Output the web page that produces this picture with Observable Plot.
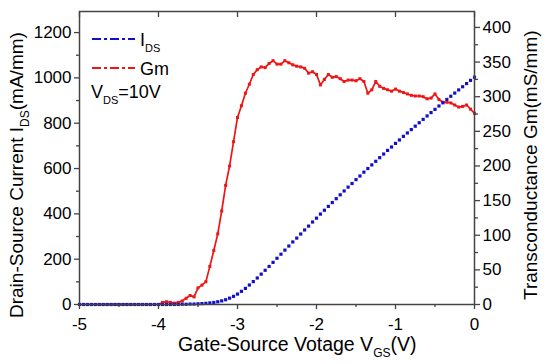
<!DOCTYPE html>
<html><head><meta charset="utf-8">
<script src="https://cdn.jsdelivr.net/npm/d3@7"></script>
<script src="https://cdn.jsdelivr.net/npm/@observablehq/plot@0.6"></script>
<style>body{margin:0;background:#fff} #chart{width:550px;height:364px}</style>
</head><body><div id="chart"></div>
<script>
// Gate-source voltage (V), 0.05 V steps
const vgs = [
  -5.00,-4.95,-4.90,-4.85,-4.80,-4.75,-4.70,-4.65,-4.60,-4.55,
  -4.50,-4.45,-4.40,-4.35,-4.30,-4.25,-4.20,-4.15,-4.10,-4.05,
  -4.00,-3.95,-3.90,-3.85,-3.80,-3.75,-3.70,-3.65,-3.60,-3.55,
  -3.50,-3.45,-3.40,-3.35,-3.30,-3.25,-3.20,-3.15,-3.10,-3.05,
  -3.00,-2.95,-2.90,-2.85,-2.80,-2.75,-2.70,-2.65,-2.60,-2.55,
  -2.50,-2.45,-2.40,-2.35,-2.30,-2.25,-2.20,-2.15,-2.10,-2.05,
  -2.00,-1.95,-1.90,-1.85,-1.80,-1.75,-1.70,-1.65,-1.60,-1.55,
  -1.50,-1.45,-1.40,-1.35,-1.30,-1.25,-1.20,-1.15,-1.10,-1.05,
  -1.00,-0.95,-0.90,-0.85,-0.80,-0.75,-0.70,-0.65,-0.60,-0.55,
  -0.50,-0.45,-0.40,-0.35,-0.30,-0.25,-0.20,-0.15,-0.10,-0.05,
  0.00
];
// Drain-source current (mA/mm)
const ids = [
  0,0,0,0,0,0,0,0,0,0,
  0,0,0,0,0,0,0,0,0,0,
  0,0,0,0,0,0,1,1,2,2,
  3,4,5,7,9,12,16,21,28,36,
  46,58,71,86,101,117,134,151,168,186,
  204,222,240,258,276,293,311,329,346,364,
  381,399,416,433,450,467,484,501,518,534,
  551,567,584,600,616,632,648,664,680,695,
  711,726,742,757,772,787,802,817,832,847,
  861,876,890,905,919,933,947,961,975,989,
  1003
];
// Transconductance (mS/mm)
const gm = [
  0,0,0,0,0,0,0,0,0,0,
  0,0,0,0,0,0,0,0,0,0,
  0,3,4,3,2,3,5,9,13,11,
  24,28,33,55,78,102,135,172,200,235,
  270,287,305,318,332,339,343,342,348,352,
  347,347,352,349,346,344,343,341,334,336,
  332,317,325,332,328,329,326,322,324,324,
  323,326,322,305,310,322,315,312,310,308,
  311,308,306,304,302,301,301,300,297,298,
  304,296,292,292,291,288,285,286,288,282,
  276
];
const xTicks = [-5,-4,-3,-2,-1,0];
const xMinor = [-4.5,-3.5,-2.5,-1.5,-0.5];
const yLeftTicks = [0,200,400,600,800,1000,1200];
const yLeftMinor = [100,300,500,700,900,1100];
const yRightTicks = [0,50,100,150,200,250,300,350,400];
const yRightMinor = [25,75,125,175,225,275,325,375];
const yLeftMax = 1293, yRightMax = 423;
const k = yLeftMax / yRightMax;

const blue = "#1010c8", red = "#ee1515", axisColor = "#444";
const font = "'Liberation Sans', Arial, sans-serif";

const idsData = vgs.map((v, i) => ({v, y: ids[i]}));
const gmData = vgs.map((v, i) => ({v, y: gm[i] * k}));

const chart = Plot.plot({
  width: 550, height: 364,
  marginLeft: 79, marginRight: 76, marginTop: 11, marginBottom: 60,
  style: {fontSize: "17px", fontFamily: font, color: "#000", background: "#fff"},
  x: {domain: [-5, 0]},
  y: {domain: [0, yLeftMax]},
  marks: [
    Plot.line(gmData, {x: "v", y: "y", stroke: red, strokeWidth: 1.7}),
    Plot.dot(gmData, {x: "v", y: "y", symbol: "square", r: 1.7, fill: red, stroke: "none"}),
    Plot.dot(idsData, {x: "v", y: "y", symbol: "square", r: 1.8, fill: blue, stroke: "none"}),
    Plot.frame({stroke: axisColor, strokeWidth: 1.5}),
    Plot.axisX(xTicks, {anchor: "bottom", tickSize: 5, tickPadding: 8, stroke: axisColor, strokeWidth: 1.3, label: null, tickFormat: d => String(d)}),
    Plot.axisX(xMinor, {anchor: "bottom", tickSize: 3, text: null, stroke: axisColor, strokeWidth: 1.3, label: null}),
    Plot.axisX(xTicks, {anchor: "top", tickSize: -5, text: null, stroke: axisColor, strokeWidth: 1.3, label: null}),
    Plot.axisY(yLeftTicks, {anchor: "left", tickSize: 5, tickPadding: 3, stroke: axisColor, strokeWidth: 1.3, label: null, tickFormat: d => String(d)}),
    Plot.axisY(yLeftMinor, {anchor: "left", tickSize: 3, text: null, stroke: axisColor, strokeWidth: 1.3, label: null}),
    Plot.axisY(yRightTicks.map(t => t * k), {anchor: "right", tickSize: 5, tickPadding: 3, stroke: axisColor, strokeWidth: 1.3, label: null, tickFormat: d => String(Math.round(d / k))}),
    Plot.axisY(yRightMinor.map(t => t * k), {anchor: "right", tickSize: 3, text: null, stroke: axisColor, strokeWidth: 1.3, label: null})
  ]
});
document.getElementById("chart").appendChild(chart);

const svg = d3.select(chart);
function sub(t, main, s, after, subSize, shift) {
  t.append("tspan").text(main);
  t.append("tspan").attr("font-size", subSize).attr("dy", shift).text(s);
  if (after) t.append("tspan").attr("dy", -shift).text(after);
}
// Axis titles
const lt = svg.append("text").attr("transform", "translate(23,318) rotate(-90)")
  .attr("font-family", font).attr("font-size", 19).attr("fill", "#000").attr("text-anchor", "start");
sub(lt, "Drain-Source Current I", "DS", "(mA/mm)", 12, 6);
const rt = svg.append("text").attr("transform", "translate(537,300) rotate(-90)")
  .attr("font-family", font).attr("font-size", 19).attr("fill", "#000").attr("text-anchor", "start");
rt.text("Transconductance Gm(mS/mm)");
const xt = svg.append("text").attr("x", 178).attr("y", 351)
  .attr("font-family", font).attr("font-size", 19.5).attr("fill", "#000").attr("text-anchor", "start");
sub(xt, "Gate-Source Votage V", "GS", "(V)", 12, 6);

// Legend
const lg = svg.append("g").attr("font-family", font).attr("font-size", 18).attr("fill", "#000").attr("text-anchor", "start");
lg.append("line").attr("x1", 92).attr("x2", 135).attr("y1", 39).attr("y2", 39)
  .attr("stroke", blue).attr("stroke-width", 2).attr("stroke-dasharray", "9,3,3,3");
const l1 = lg.append("text").attr("x", 140).attr("y", 46);
sub(l1, "I", "DS", "", 11, 6);
lg.append("line").attr("x1", 92).attr("x2", 135).attr("y1", 68).attr("y2", 68)
  .attr("stroke", red).attr("stroke-width", 2).attr("stroke-dasharray", "9,3,3,3");
lg.append("text").attr("x", 140).attr("y", 75).text("Gm");
const l3 = lg.append("text").attr("x", 91).attr("y", 98);
sub(l3, "V", "DS", "=10V", 11, 6);
</script>
</body></html>
